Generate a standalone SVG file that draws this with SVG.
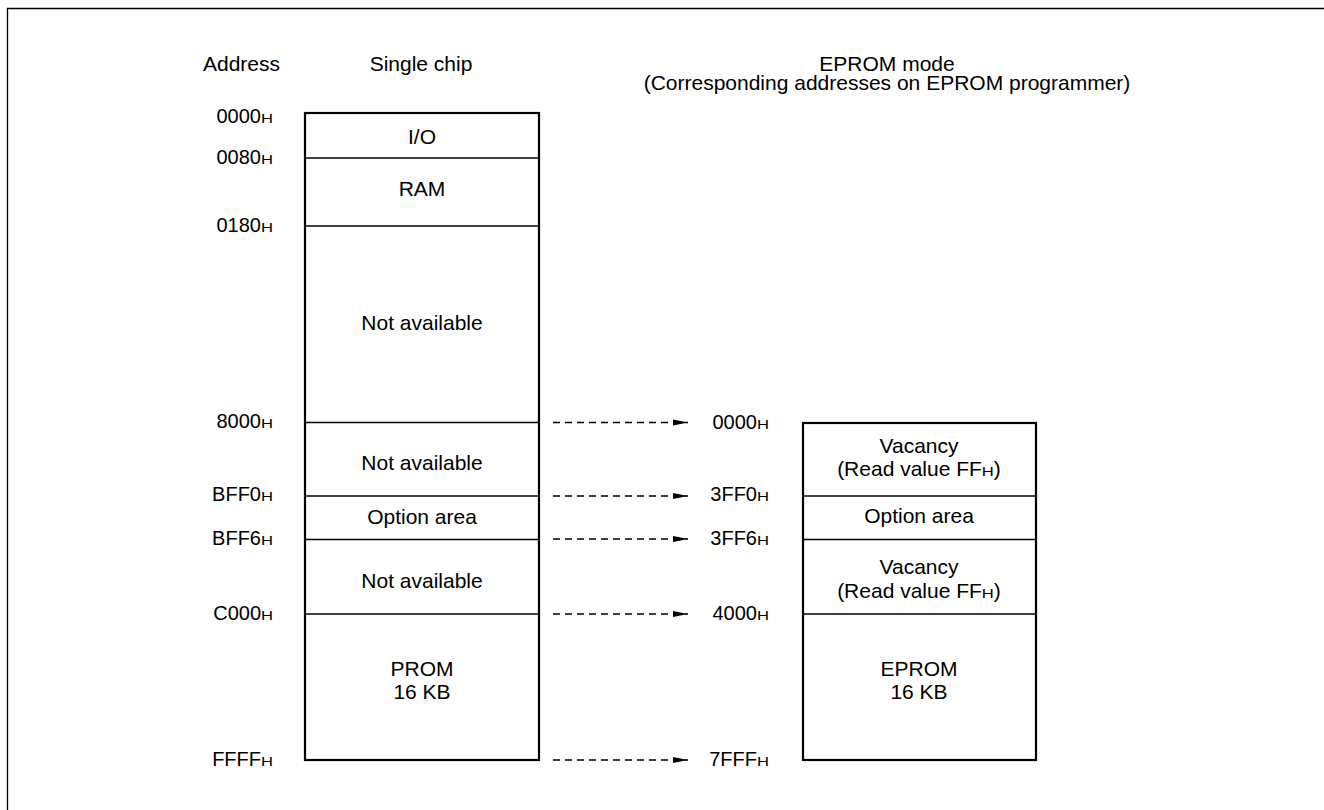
<svg xmlns="http://www.w3.org/2000/svg" width="1324" height="810" viewBox="0 0 1324 810">
<defs>
<style>
text{font-family:"Liberation Sans",Arial,sans-serif;fill:#000}
.t{font-size:21px;text-anchor:middle}
.h{font-size:21px}
.a{font-size:20px;text-anchor:end}
.s{font-size:12px}
.box{fill:#fff;stroke:#000;stroke-width:2.2}
.div{stroke:#000;stroke-width:1.3;fill:none}
.arr{stroke:#000;stroke-width:1.3;stroke-dasharray:7 5;fill:none}
</style>
<marker id="ah" markerWidth="16" markerHeight="8" refX="15" refY="4" orient="auto" markerUnits="userSpaceOnUse">
<path d="M0,1 L15,4 L0,7 Z" fill="#000"/>
</marker>
</defs>
<rect width="1324" height="810" fill="#fff"/>
<path d="M7.5,810 V8.5 H1324" stroke="#000" stroke-width="1.3" fill="none"/>

<g id="headers">
<text class="h" x="203" y="71">Address</text>
<text class="t" x="421" y="71">Single chip</text>
<text class="t" x="887" y="71">EPROM mode</text>
<text class="t" x="887" y="89.5">(Corresponding addresses on EPROM programmer)</text>
</g>

<g id="single-chip">
<rect class="box" x="305" y="113" width="234" height="647"/>
<line class="div" x1="305" y1="158" x2="539" y2="158"/>
<line class="div" x1="305" y1="226" x2="539" y2="226"/>
<line class="div" x1="305" y1="422.5" x2="539" y2="422.5"/>
<line class="div" x1="305" y1="496" x2="539" y2="496"/>
<line class="div" x1="305" y1="539.5" x2="539" y2="539.5"/>
<line class="div" x1="305" y1="614" x2="539" y2="614"/>
<text class="t" x="422" y="144">I/O</text>
<text class="t" x="422" y="196">RAM</text>
<text class="t" x="422" y="330">Not available</text>
<text class="t" x="422" y="470">Not available</text>
<text class="t" x="422" y="524">Option area</text>
<text class="t" x="422" y="588">Not available</text>
<text class="t" x="422" y="676">PROM</text>
<text class="t" x="422" y="699">16 KB</text>
</g>

<g id="eprom">
<rect class="box" x="803" y="423" width="233" height="337"/>
<line class="div" x1="803" y1="496" x2="1036" y2="496"/>
<line class="div" x1="803" y1="539.5" x2="1036" y2="539.5"/>
<line class="div" x1="803" y1="614" x2="1036" y2="614"/>
<text class="t" x="919" y="453">Vacancy</text>
<text class="t" x="919" y="476">(Read value FF<tspan class="s" textLength="12" lengthAdjust="spacingAndGlyphs">H</tspan>)</text>
<text class="t" x="919" y="523">Option area</text>
<text class="t" x="919" y="574">Vacancy</text>
<text class="t" x="919" y="598">(Read value FF<tspan class="s" textLength="12" lengthAdjust="spacingAndGlyphs">H</tspan>)</text>
<text class="t" x="919" y="676">EPROM</text>
<text class="t" x="919" y="699">16 KB</text>
</g>

<g id="addresses-left">
<text class="a" x="273" y="123">0000<tspan class="s" textLength="12" lengthAdjust="spacingAndGlyphs">H</tspan></text>
<text class="a" x="273" y="163.5">0080<tspan class="s" textLength="12" lengthAdjust="spacingAndGlyphs">H</tspan></text>
<text class="a" x="273" y="231.5">0180<tspan class="s" textLength="12" lengthAdjust="spacingAndGlyphs">H</tspan></text>
<text class="a" x="273" y="428">8000<tspan class="s" textLength="12" lengthAdjust="spacingAndGlyphs">H</tspan></text>
<text class="a" x="273" y="501">BFF0<tspan class="s" textLength="12" lengthAdjust="spacingAndGlyphs">H</tspan></text>
<text class="a" x="273" y="545">BFF6<tspan class="s" textLength="12" lengthAdjust="spacingAndGlyphs">H</tspan></text>
<text class="a" x="273" y="619.5">C000<tspan class="s" textLength="12" lengthAdjust="spacingAndGlyphs">H</tspan></text>
<text class="a" x="273" y="765.5">FFFF<tspan class="s" textLength="12" lengthAdjust="spacingAndGlyphs">H</tspan></text>
</g>

<g id="addresses-right">
<text class="a" x="769" y="428.5">0000<tspan class="s" textLength="12" lengthAdjust="spacingAndGlyphs">H</tspan></text>
<text class="a" x="769" y="501">3FF0<tspan class="s" textLength="12" lengthAdjust="spacingAndGlyphs">H</tspan></text>
<text class="a" x="769" y="544.5">3FF6<tspan class="s" textLength="12" lengthAdjust="spacingAndGlyphs">H</tspan></text>
<text class="a" x="769" y="619.5">4000<tspan class="s" textLength="12" lengthAdjust="spacingAndGlyphs">H</tspan></text>
<text class="a" x="769" y="765.5">7FFF<tspan class="s" textLength="12" lengthAdjust="spacingAndGlyphs">H</tspan></text>
</g>

<g id="connectors">
<line class="arr" x1="553" y1="422.5" x2="688" y2="422.5" marker-end="url(#ah)"/>
<line class="arr" x1="553" y1="496" x2="688" y2="496" marker-end="url(#ah)"/>
<line class="arr" x1="553" y1="539" x2="688" y2="539" marker-end="url(#ah)"/>
<line class="arr" x1="553" y1="614" x2="688" y2="614" marker-end="url(#ah)"/>
<line class="arr" x1="553" y1="760" x2="688" y2="760" marker-end="url(#ah)"/>
</g>
</svg>
